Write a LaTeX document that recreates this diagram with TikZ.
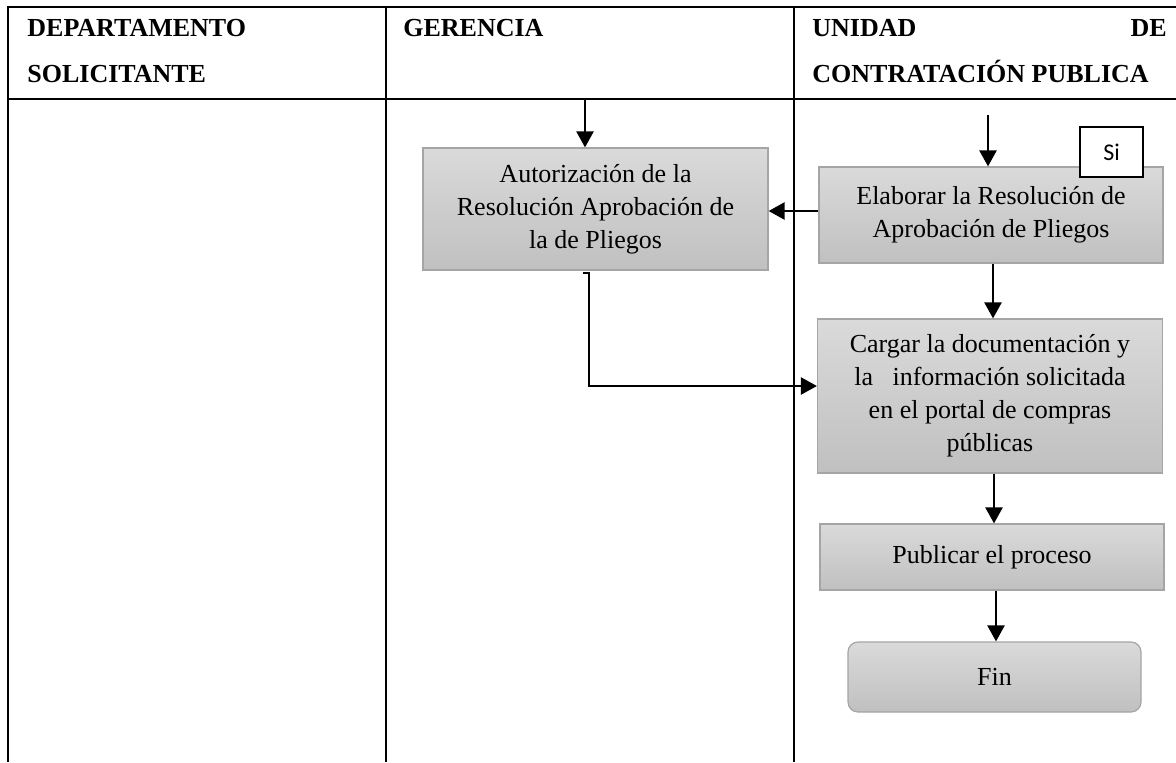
\documentclass[tikz,border=0pt]{standalone}
\usepackage{fontspec}
\setmainfont{Liberation Serif}
\newfontfamily\calibri{Carlito}
\usetikzlibrary{arrows.meta}

\definecolor{boxtop}{RGB}{218,218,218}
\definecolor{boxbot}{RGB}{192,192,192}
\definecolor{boxline}{RGB}{165,165,165}

\tikzset{
    lane/.style={line width=1.1pt},
    hdr/.style={inner sep=0pt, font=\bfseries\fontsize{13}{16}\selectfont},
    proc/.style={draw=boxline, line width=0.6pt, top color=boxtop, bottom color=boxbot,
        align=center, inner sep=0pt, font=\fontsize{13}{16.5}\selectfont},
    flow/.style={line width=1.2pt, -{Triangle[width=8.5pt,length=8pt]}},
}

\begin{document}
\begin{tikzpicture}[x=0.5pt,y=-0.5pt]
    \useasboundingbox (0,0) rectangle (1176,762);
    % lanes
    \draw[lane] (1176,7) -- (8,7) -- (8,762);
    \draw[lane] (8,99) -- (1176,99);
    \draw[lane] (386,7) -- (386,762);
    \draw[lane] (794,7) -- (794,762);
    % headers
    \node[hdr, anchor=base west] (dep) at (27,36) {DEPARTAMENTO};
    \node[hdr, anchor=base west] (sol) at (27,82) {SOLICITANTE};
    \node[hdr, anchor=base west] (ger) at (403,36) {GERENCIA};
    \node[hdr, anchor=base west] (uni) at (812,36) {UNIDAD};
    \node[hdr, anchor=base east] (de) at (1167,36) {DE};
    \node[hdr, anchor=base west] (ucp) at (812,82) {CONTRATACIÓN PUBLICA};
    % steps
    \node[proc, minimum width=172.5pt, minimum height=61pt] (aut) at (595.5,209)
        {Autorización de la\\Resolución Aprobación de\\la de Pliegos};
    \node[proc, minimum width=172pt, minimum height=48pt] (elab) at (991,215)
        {Elaborar la Resolución de\\Aprobación de Pliegos};
    \node[draw, fill=white, line width=0.6pt, minimum width=31.5pt, minimum height=25pt,
        inner sep=0pt, font=\calibri\fontsize{12}{14}\selectfont] (si) at (1111.5,152) {Si};
    \node[proc, minimum width=172.5pt, minimum height=77pt] (carg) at (990,396)
        {Cargar la documentación y\\la\ \ \ información solicitada\\en el portal de compras\\públicas};
    \node[proc, minimum width=172pt, minimum height=33pt] (pub) at (992,557)
        {Publicar el proceso};
    \node[proc, rounded corners=5pt, minimum width=146.5pt, minimum height=35pt] (fin) at (994.5,677)
        {Fin};
    % connectors
    \coordinate (autin) at (585,99);
    \coordinate (elabin) at (988,115);
    \coordinate (autout) at (583,273);
    \draw[flow] (autin) -- (autin |- aut.north);
    \draw[flow] (elabin) -- (elabin |- elab.north);
    \draw[flow] ([yshift=2pt]elab.west) -- ([yshift=2pt]elab.west -| aut.east);
    \draw[flow] ([xshift=1pt]elab.south) -- ([xshift=1pt]elab.south |- carg.north);
    \draw[flow] (autout) -- ++(6,0) |- ([yshift=5pt]carg.west);
    \draw[flow] ([xshift=2pt]carg.south) -- ([xshift=2pt]carg.south |- pub.north);
    \draw[flow] ([xshift=2pt]pub.south) -- ([xshift=2pt]pub.south |- fin.north);
\end{tikzpicture}
\end{document}
